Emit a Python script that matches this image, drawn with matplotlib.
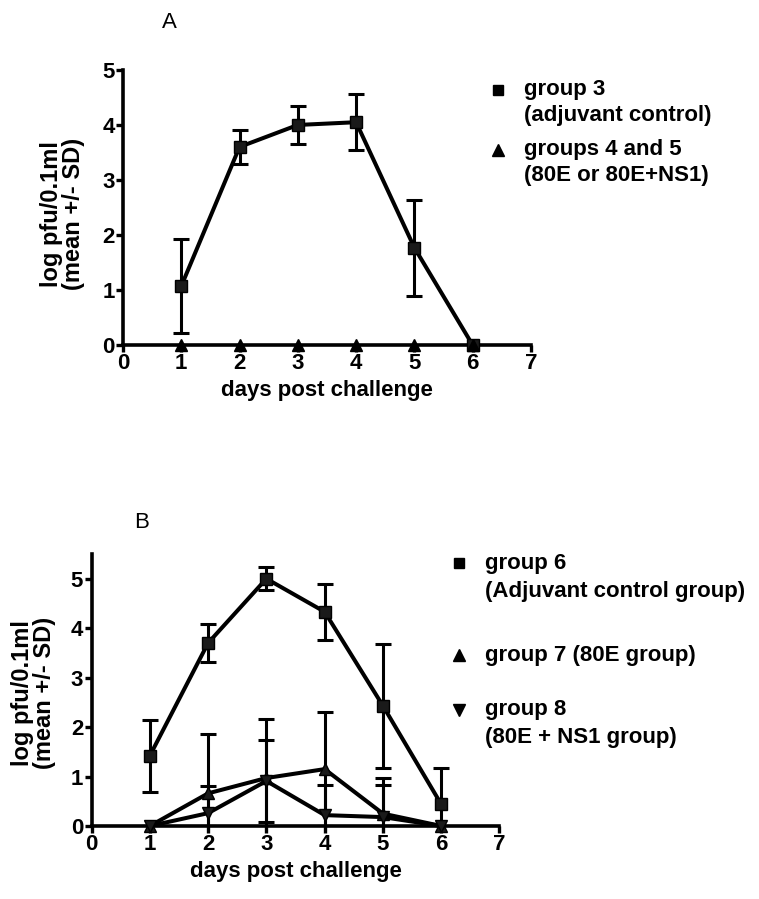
import matplotlib.pyplot as plt
from matplotlib.lines import Line2D
import numpy as np

plt.rcParams['font.family'] = ['Liberation Sans', 'DejaVu Sans']
plt.rcParams['font.weight'] = 'bold'

# data, panel A
days = np.array([1, 2, 3, 4, 5, 6])
g3_mean = np.array([1.07, 3.60, 4.00, 4.05, 1.77, 0.0])
g3_sd = np.array([0.86, 0.31, 0.35, 0.51, 0.87, 0.0])
g45_mean = np.array([0, 0, 0, 0, 0, 0])

# data, panel B
g6_mean = np.array([1.42, 3.70, 5.00, 4.33, 2.43, 0.44])
g6_sd = np.array([0.73, 0.39, 0.23, 0.56, 1.25, 0.73])
g7_mean = np.array([0.0, 0.66, 0.97, 1.15, 0.25, 0.0])
g7_sd = np.array([0.0, 1.20, 1.19, 1.16, 0.73, 0.0])
g8_mean = np.array([0.0, 0.26, 0.91, 0.22, 0.18, 0.0])
g8_sd = np.array([0.0, 0.55, 0.82, 0.60, 0.64, 0.0])

fs_tick = 16
fs_lab = 16
fs_leg = 16


def style(ax, ytop, ylab_x, ylab_y):
    for s in ['top', 'right']:
        ax.spines[s].set_visible(False)
    for s in ['left', 'bottom']:
        ax.spines[s].set_linewidth(2.6)
    ax.set_xlim(0, 7)
    ax.set_ylim(0, ytop)
    ax.set_xticks(range(0, 8))
    ax.set_yticks(range(0, 6))
    ax.tick_params(width=2.4, length=5, labelsize=fs_tick, pad=1)
    for t in ax.get_xticklabels() + ax.get_yticklabels():
        t.set_fontweight('bold')
    ax.set_xlabel('days post challenge', fontsize=fs_lab, fontweight='bold', labelpad=4)
    ax.set_ylabel('log pfu/0.1ml\n(mean +/- SD)', fontsize=17, fontweight='bold',
                  linespacing=0.95)
    ax.yaxis.set_label_coords(ylab_x, ylab_y)


def series(ax, x, m, sd, marker, ms=8.5):
    lower = np.minimum(sd, m)
    ax.errorbar(x, m, yerr=[lower, sd], fmt='none', ecolor='black',
                elinewidth=2.2, capsize=6, capthick=2.2, zorder=2)
    ax.plot(x, m, color='black', lw=2.9, marker=marker, ms=ms,
            mfc='#1a1a1a', mec='black', clip_on=False, zorder=3)


fig = plt.figure(figsize=(7.59, 8.99), dpi=100)

# panel A
ax1 = fig.add_axes([0.162, 0.6162, 0.5375, 0.306])
series(ax1, days, g3_mean, g3_sd, 's')
ax1.plot(days, g45_mean, color='black', lw=0, marker='^', ms=8.5, clip_on=False, zorder=4)
style(ax1, 5, -0.093, 0.476)
fig.text(0.223, 0.975, 'A', fontsize=16, fontweight='normal', ha='center', va='center')

# panel B
ax2 = fig.add_axes([0.1206, 0.0812, 0.5375, 0.3026])
series(ax2, days, g6_mean, g6_sd, 's')
series(ax2, days, g7_mean, g7_sd, '^', ms=8.5)
series(ax2, days, g8_mean, g8_sd, 'v', ms=8.5)
style(ax2, 5.5, -0.087, 0.49)
fig.text(0.187, 0.419, 'B', fontsize=16, fontweight='normal', ha='center', va='center')


# legends drawn by hand
def key(x, y, marker, ms=7):
    fig.add_artist(Line2D([x / 759], [1 - y / 899], marker=marker, ms=ms, color='black',
                          lw=0, transform=fig.transFigure))


def txt(x, y, s):
    fig.text(x / 759, 1 - y / 899, s, fontsize=fs_leg, fontweight='bold', va='center', ha='left')


key(498, 90, 's', 7)
txt(524, 90, 'group 3')
txt(524, 116, '(adjuvant control)')
key(498, 150, '^', 8)
txt(524, 150, 'groups 4 and 5')
txt(524, 176, '(80E or 80E+NS1)')

key(459, 563, 's', 7)
txt(485, 563, 'group 6')
txt(485, 591, '(Adjuvant control group)')
key(459, 655, '^', 8)
txt(485, 655, 'group 7 (80E group)')
key(459, 710, 'v', 8)
txt(485, 710, 'group 8')
txt(485, 737, '(80E + NS1 group)')

fig.savefig('out.png', dpi=100)
